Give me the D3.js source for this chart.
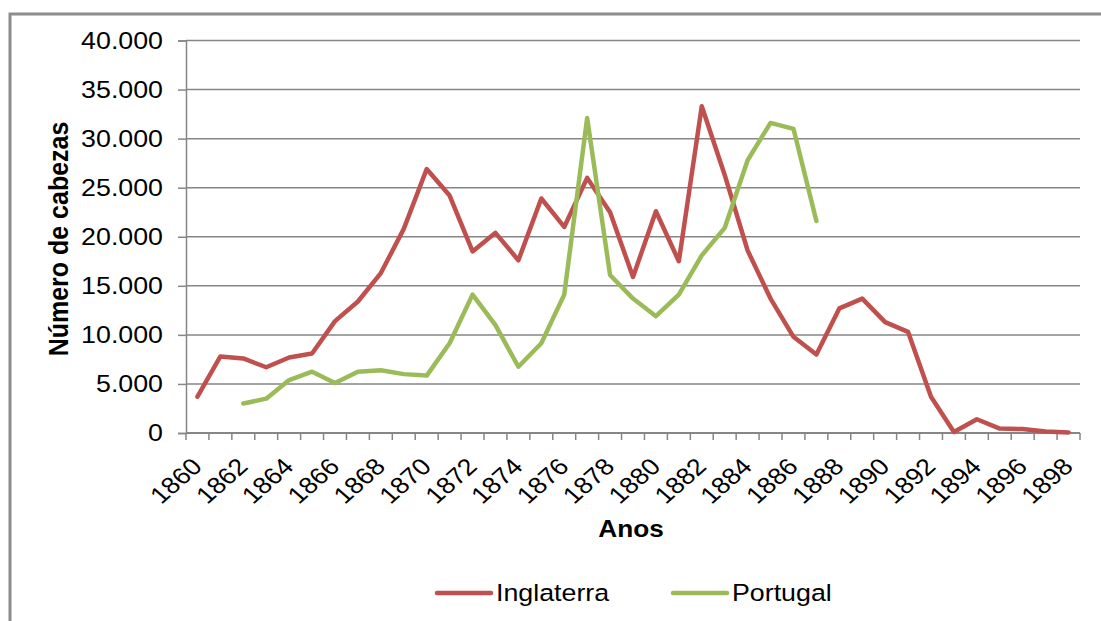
<!DOCTYPE html>
<html>
<head>
<meta charset="utf-8">
<script src="https://cdn.jsdelivr.net/npm/d3@7"></script>
<style>
  html, body { margin: 0; padding: 0; background: #fff; }
  svg { display: block; font-family: "Liberation Sans", Arial, sans-serif; }
</style>
</head>
<body>
<div id="chart"></div>
<script>
const years = d3.range(1860, 1899);
const inglaterra = [3700, 7800, 7600, 6700, 7700, 8100, 11400, 13400, 16300, 20800,
  26900, 24200, 18500, 20400, 17600, 23900, 21000, 26000, 22500, 15900,
  22600, 17500, 33300, 26300, 18600, 13700, 9800, 8000, 12700, 13700,
  11300, 10300, 3700, 100, 1400, 450, 400, 150, 50];
const portugal = [null, null, 3000, 3500, 5400, 6250, 5100, 6250, 6400, 6000,
  5850, 9150, 14100, 11000, 6750, 9150, 14100, 32100, 16100, 13700,
  11900, 14100, 18100, 20900, 27800, 31600, 31000, 21600, null, null,
  null, null, null, null, null, null, null, null, null];
const yTicks = [0, 5000, 10000, 15000, 20000, 25000, 30000, 35000, 40000];
const xLabelYears = years.filter(y => y % 2 === 0);
const seriesNames = ["Inglaterra", "Portugal"];
const colors = ["#C0504D", "#9BBB59"];
const yTitle = "Número de cabezas";
const xTitle = "Anos";

const W = 1101, H = 621;
const SX = 1.14; // horizontal stretch of text
const FS = 23.5;
const fmt = v => v === 0 ? "0" : d3.format(",")(v).replace(/,/g, ".");

const svg = d3.select("#chart").append("svg").attr("width", W).attr("height", H);

// outer frame
svg.append("rect").attr("x", 10).attr("y", 14).attr("width", 1300).attr("height", 800)
  .attr("fill", "none").attr("stroke", "#8c8c8c").attr("stroke-width", 3);

const x = d3.scaleBand().domain(years).range([186, 1080]).padding(0);
const y = d3.scaleLinear().domain([0, 40000]).range([433, 40.5]);
const cx = d => x(d) + x.bandwidth() / 2;

// gridlines
svg.append("g").selectAll("line").data(yTicks.filter(t => t > 0)).join("line")
  .attr("x1", 186).attr("x2", 1080)
  .attr("y1", d => y(d)).attr("y2", d => y(d))
  .attr("stroke", "#868686").attr("stroke-width", 1.5);

// y axis
const yAxis = svg.append("g").attr("transform", "translate(186,0)")
  .call(d3.axisLeft(y).tickValues(yTicks).tickFormat(fmt).tickSize(8).tickPadding(14));
yAxis.select(".domain").attr("stroke", "#868686").attr("stroke-width", 1.5);
yAxis.selectAll(".tick line").attr("stroke", "#868686").attr("stroke-width", 1.5);
yAxis.selectAll(".tick text")
  .attr("font-size", FS).attr("fill", "#000")
  .attr("font-family", "Liberation Sans, Arial, sans-serif")
  .attr("transform", `scale(${SX},1)`)
  .attr("x", -23 / SX);

// x axis line
svg.append("line").attr("x1", 186).attr("x2", 1080).attr("y1", 433).attr("y2", 433)
  .attr("stroke", "#868686").attr("stroke-width", 2);
// x ticks at band boundaries
svg.append("g").selectAll("line").data(d3.range(years.length + 1)).join("line")
  .attr("x1", i => 186 + i * x.step()).attr("x2", i => 186 + i * x.step())
  .attr("y1", 433).attr("y2", 440)
  .attr("stroke", "#868686").attr("stroke-width", 1.5);
// x labels
svg.append("g").selectAll("text").data(xLabelYears).join("text")
  .attr("transform", d => `translate(${cx(d) + 6},468) scale(${SX},1) rotate(-45)`)
  .attr("text-anchor", "end")
  .attr("font-size", FS).attr("fill", "#000")
  .text(d => d);

// titles
svg.append("text")
  .attr("transform", `translate(68,239) scale(${SX},1) rotate(-90)`)
  .attr("text-anchor", "middle").attr("font-weight", "bold").attr("font-size", 25)
  .text(yTitle);
svg.append("text")
  .attr("transform", `translate(631,537) scale(${SX},1)`)
  .attr("text-anchor", "middle").attr("font-weight", "bold").attr("font-size", 23)
  .text(xTitle);

// lines
const line = d3.line().defined(d => d.v !== null).x(d => cx(d.year)).y(d => y(d.v));
[inglaterra, portugal].forEach((arr, i) => {
  const data = years.map((yr, k) => ({ year: yr, v: arr[k] }));
  svg.append("path").datum(data)
    .attr("fill", "none").attr("stroke", colors[i]).attr("stroke-width", 4.5)
    .attr("stroke-linejoin", "round").attr("stroke-linecap", "round")
    .attr("d", line);
});

// legend
const legendX = [437, 673];
seriesNames.forEach((name, i) => {
  const g = svg.append("g");
  g.append("line").attr("x1", legendX[i]).attr("x2", legendX[i] + 54)
    .attr("y1", 593).attr("y2", 593)
    .attr("stroke", colors[i]).attr("stroke-width", 4.5).attr("stroke-linecap", "round");
  g.append("text")
    .attr("transform", `translate(${legendX[i] + 59},601) scale(${SX},1)`)
    .attr("font-size", FS).attr("fill", "#000")
    .text(name);
});
</script>
</body>
</html>
